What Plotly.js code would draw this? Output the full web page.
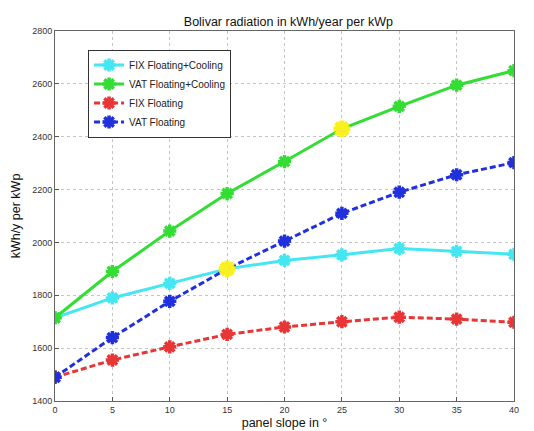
<!DOCTYPE html>
<html><head><meta charset="utf-8">
<script src="https://cdn.plot.ly/plotly-3.0.1.min.js"></script>
<style>html,body{margin:0;padding:0;background:#fff}#c{width:534px;height:431px}</style>
</head><body><div id="c"></div>
<script>
const slope = [0, 5, 10, 15, 20, 25, 30, 35, 40];
const fixCooling = [1715, 1790, 1845, 1900, 1932, 1953, 1977, 1966, 1955];
const vatCooling = [1715, 1890, 2043, 2185, 2306, 2430, 2515, 2595, 2650];
const fixFloating = [1490, 1555, 1605, 1652, 1680, 1700, 1717, 1710, 1698];
const vatFloating = [1490, 1640, 1777, 1900, 2005, 2110, 2190, 2256, 2302];
const highlightX = [15, 25];
const highlightY = [1900, 2430];
const xTicks = [0, 5, 10, 15, 20, 25, 30, 35, 40];
const yTicks = [1400, 1600, 1800, 2000, 2200, 2400, 2600, 2800];

function tr(name, y, color, dash) {
  return {x: slope, y: y, name: name, type: 'scatter', mode: 'lines+markers',
    line: {color: color, width: 3, dash: dash},
    marker: {symbol: 'asterisk-open', size: 11, color: color, line: {color: color, width: 3.5}}};
}
const data = [
  tr('FIX Floating+Cooling', fixCooling, '#44E6F2', 'solid'),
  tr('VAT Floating+Cooling', vatCooling, '#33DD33', 'solid'),
  tr('FIX Floating', fixFloating, '#E83535', '6px,3px'),
  tr('VAT Floating', vatFloating, '#2030DD', '6px,3px'),
  {x: highlightX, y: highlightY, type: 'scatter', mode: 'markers', showlegend: false,
   marker: {symbol: 'asterisk-open', size: 14, color: '#F8F020', line: {color: '#F8F020', width: 5}}}
];
const layout = {
  width: 534, height: 431,
  margin: {l: 55, r: 20, t: 31, b: 30},
  paper_bgcolor: '#fff', plot_bgcolor: '#fff',
  font: {family: 'Liberation Sans, Arial, sans-serif', color: '#222', size: 9},
  title: {text: 'Bolivar radiation in kWh/year per kWp', font: {size: 12.5, color: '#111'}, x: 0.54, xanchor: 'center', y: 0.96, yanchor: 'top'},
  xaxis: {range: [0, 40], tickvals: xTicks, ticks: 'inside', ticklen: 4, tickcolor: '#555',
    showgrid: true, gridcolor: '#c4c4c4', griddash: 'dot', gridwidth: 1,
    showline: true, linecolor: '#666', mirror: true, zeroline: false,
    tickfont: {size: 9, color: '#333'},
    title: {text: 'panel slope in °', font: {size: 12.5, color: '#111'}, standoff: 4}},
  yaxis: {range: [1400, 2800], tickvals: yTicks, ticks: 'inside', ticklen: 4, tickcolor: '#555',
    showgrid: true, gridcolor: '#c4c4c4', griddash: 'dot', gridwidth: 1,
    showline: true, linecolor: '#666', mirror: true, zeroline: false,
    tickfont: {size: 9, color: '#333'},
    title: {text: 'kWh/y per kWp', font: {size: 12.5, color: '#111'}, standoff: 8}},
  legend: {x: 0.072, y: 0.95, xanchor: 'left', yanchor: 'top', bgcolor: '#fff',
    bordercolor: '#333', borderwidth: 1, font: {size: 10, color: '#222'},
    tracegroupgap: 0, itemwidth: 30},
  showlegend: true
};
Plotly.newPlot('c', data, layout, {staticPlot: true, displayModeBar: false});
</script></body></html>
